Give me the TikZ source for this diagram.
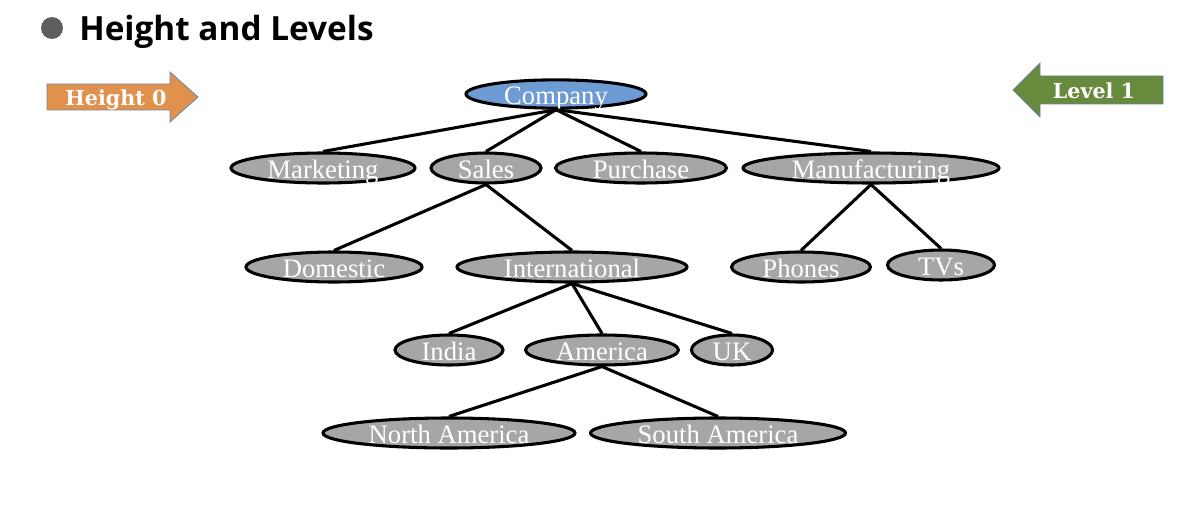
\documentclass[tikz,border=0pt]{standalone}
\usepackage{fontspec}
\setmainfont{Liberation Serif}
\newfontfamily\titlefont{Open Sans}
\newfontfamily\slabfont{DejaVu Serif}
\usetikzlibrary{shapes.geometric}
\definecolor{nodegray}{HTML}{A6A6A6}
\definecolor{rootblue}{HTML}{6E9BD3}
\definecolor{arrorange}{HTML}{E0914C}
\definecolor{arrgreen}{HTML}{688A3C}
\definecolor{arredge}{HTML}{6B84A0}
\definecolor{bulletgray}{HTML}{5F5F5F}
\begin{document}
\begin{tikzpicture}[x=0.75pt,y=-0.75pt,
  el/.style 2 args={ellipse, draw=black, line width=2.3pt, fill=nodegray, inner sep=0pt,
    minimum width=#1*0.75pt, minimum height=#2*0.75pt, text=white,
    text height=15pt, text depth=0pt,
    font=\fontsize{20}{20}\selectfont},
  link/.style={line width=2.3pt, draw=black},
  lbl/.style={text=white, text height=13pt, text depth=0pt, font=\slabfont\bfseries\fontsize{15.5}{15.5}\selectfont}
]
\useasboundingbox (0,0) rectangle (1186,510);
% title
\fill[bulletgray] (52,28) circle (11);
\node[anchor=base west, inner sep=0pt, font=\titlefont\bfseries\fontsize{25}{25}\selectfont] (title) at (79,41) {Height and Levels};
% arrows
\draw[fill=arrorange, draw=arredge, line width=0.6pt] (47,84) -- (170,84) -- (170,72) -- (198,97) -- (170,122) -- (170,110) -- (47,110) -- cycle;
\node[lbl] (h0) at (116,97) {Height 0};
\draw[fill=arrgreen, draw=arredge, line width=0.6pt] (1163,76) -- (1040,76) -- (1040,63) -- (1013,90) -- (1040,117) -- (1040,104) -- (1163,104) -- cycle;
\node[lbl] (l1) at (1094,90) {Level 1};
% nodes
\node[el={180}{26}, fill=rootblue] (company) at (556,94) {Company};
\node[el={184}{30}] (marketing) at (323,168) {Marketing};
\node[el={110}{30}] (sales) at (486,168) {Sales};
\node[el={171}{30}] (purchase) at (641,168) {Purchase};
\node[el={256}{30}] (manuf) at (871,168) {Manufacturing};
\node[el={176}{30}] (domestic) at (334,267) {Domestic};
\node[el={230}{30}] (intl) at (572,267) {International};
\node[el={139}{30}] (phones) at (801,267) {Phones};
\node[el={107}{30}] (tvs) at (941,265) {TVs};
\node[el={108}{30}] (india) at (449,350) {India};
\node[el={153}{30}] (america) at (602,350) {America};
\node[el={81}{30}] (uk) at (732,350) {UK};
\node[el={252}{30}] (namerica) at (449,433) {North America};
\node[el={255}{30}] (samerica) at (718,433) {South America};
% links
\foreach \c in {marketing,sales,purchase,manuf}
  \draw[link] (company.south) -- (\c.north);
\draw[link] (sales.south) -- (domestic.north);
\draw[link] (sales.south) -- (intl.north);
\draw[link] (manuf.south) -- (phones.north);
\draw[link] (manuf.south) -- (tvs.north);
\draw[link] (intl.south) -- (india.north);
\draw[link] (intl.south) -- (america.north);
\draw[link] (intl.south) -- (uk.north);
\draw[link] (america.south) -- (namerica.north);
\draw[link] (america.south) -- (samerica.north);
\end{tikzpicture}
\end{document}
